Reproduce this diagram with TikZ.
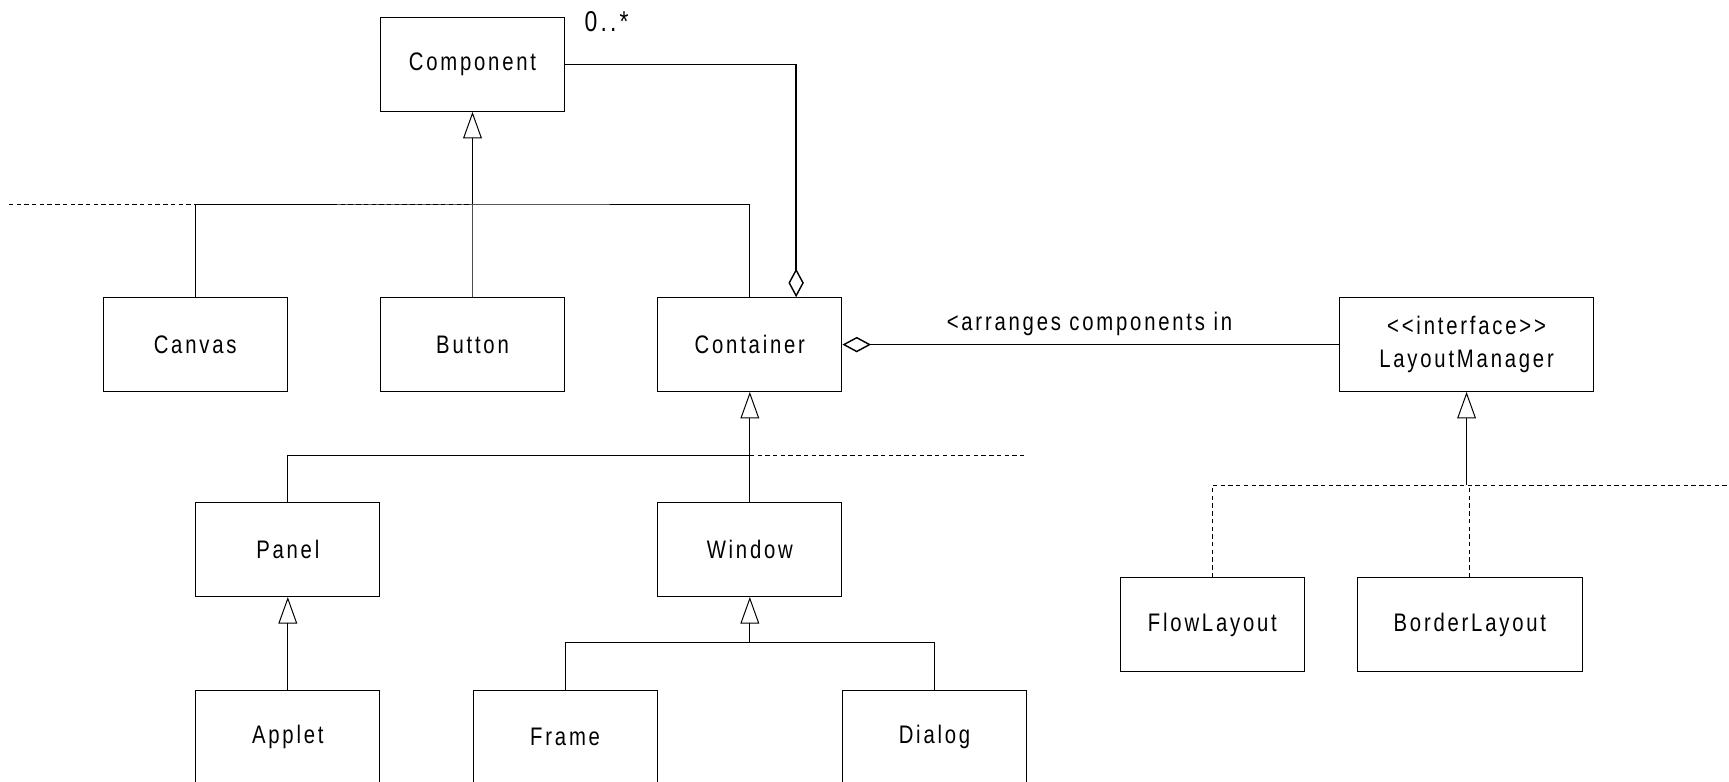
\documentclass[tikz,border=0pt]{standalone}
\usepackage{fontspec}
\setmainfont{Liberation Sans}[FakeStretch=0.8, LetterSpace=11]
\usetikzlibrary{arrows.meta}
\begin{document}
\begin{tikzpicture}[x=1pt,y=-1pt,
  cls/.style={draw, line width=0.9pt, minimum width=167pt, minimum height=85pt, inner sep=0pt,
    font=\fontsize{23}{28}\selectfont, align=center},
  gen/.style={line width=0.9pt},
  genthin/.style={line width=0.7pt, draw=black!70},
  dsh/.style={line width=0.8pt, dash pattern=on 4pt off 3pt},
  tri/.style={-{Triangle[open, length=24pt, width=17pt, line width=0.9pt]}},
  agg/.style={line width=1.6pt},
  dia/.tip={Diamond[open, length=26pt, width=14pt, line width=1.3pt]},
  lbl/.style={font=\fontsize{23}{28}\selectfont, inner sep=0pt}]
\useasboundingbox (0,0) rectangle (1568,709);
% classes
\node[cls] (component) at (428.5,58.5) {Component};
\node[cls] (canvas) at (177,312.5) {Canvas};
\node[cls] (button) at (428.5,312.5) {Button};
\node[cls] (container) at (680,312.5) {Container};
\node[cls, minimum width=230pt] (layout) at (1330,312.5) {{<}{<}interface{>}{>}\\[2pt]LayoutManager};
\node[cls] (panel) at (261,498.5) {Panel};
\node[cls] (window) at (680,498.5) {Window};
\node[cls] (applet) at (261,668.5) {Applet};
\node[cls] (frame) at (512.5,668.5) {Frame};
\node[cls] (dialog) at (847.5,668.5) {Dialog};
\node[cls] (flow) at (1099.5,566.5) {FlowLayout};
\node[cls, minimum width=204pt] (border) at (1333,566.5) {BorderLayout};
% labels
\node[lbl, anchor=west, font=\fontsize{26}{30}\selectfont] (mult) at (530,20) {0..*};
\node[lbl] (arr) at (988,294) {<arranges components in};
% junctions
\coordinate (j1) at (428.5,185);
\coordinate (jl) at (8,185);
\coordinate (j2) at (680,413);
\coordinate (jr2) at (931,413);
\coordinate (j3) at (1330,440);
\coordinate (jr3) at (1568,440);
\coordinate (j4) at (680,583);
% Component hierarchy
\draw[dsh] (jl) -- (j1);
\draw[gen] (canvas.north) |- (j1) -| (container.north);
\draw[genthin] (button.north) -- (j1);
\draw[gen, tri] (j1) -- (component.south);
% aggregation Component - Container
\draw[agg, -dia] (component.east) -| ([xshift=42pt]container.north);
\draw[agg, dia-] (container.east) -- (layout.west);
% Container hierarchy
\draw[gen] (panel.north) |- (j2) -- (window.north);
\draw[dsh] (j2) -- (jr2);
\draw[gen, tri] (j2) -- (container.south);
% Window hierarchy
\draw[gen] (frame.north) |- (j4) -| (dialog.north);
\draw[gen, tri] (j4) -- (window.south);
% Panel - Applet
\draw[gen, tri] (applet.north) -- (panel.south);
% LayoutManager realization
\draw[dsh] (flow.north) |- (jr3);
\draw[dsh] (border.north) -- (border.north |- j3);
\draw[gen, tri] (j3) -- (layout.south);
\end{tikzpicture}
\end{document}
